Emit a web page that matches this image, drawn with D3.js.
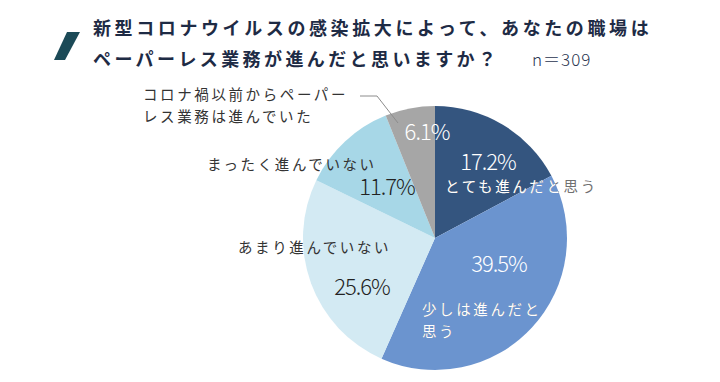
<!DOCTYPE html>
<html><head><meta charset="utf-8">
<script src="https://cdn.jsdelivr.net/npm/d3@7"></script>
<style>
html,body{margin:0;padding:0;background:#fff;}
svg{display:block;}
text{font-family:"Noto Sans CJK JP","Noto Sans",sans-serif;}
</style></head>
<body>
<svg id="chart" width="720" height="382"></svg>
<script>
// ---- data ----
const categories = ["とても進んだと思う", "少しは進んだと思う", "あまり進んでいない", "まったく進んでいない", "コロナ禍以前からペーパーレス業務は進んでいた"];
const values = [17.2, 39.5, 25.6, 11.7, 6.1];
const percentLabels = ["17.2%", "39.5%", "25.6%", "11.7%", "6.1%"];
const labelLines = [["とても進んだと思う"], ["少しは進んだと", "思う"], ["あまり進んでいない"], ["まったく進んでいない"], ["コロナ禍以前からペーパー", "レス業務は進んでいた"]];
const titleLines = ["新型コロナウイルスの感染拡大によって、あなたの職場は", "ペーパーレス業務が進んだと思いますか？"];
const sampleNote = "n＝309";

// ---- styles / layout ----
const colors = ["#34557F", "#6B94CF", "#D3EAF3", "#A7D7E7", "#A6A6A6"];
const pctColors = ["#ffffff", "#ffffff", "#222222", "#222222", "#ffffff"];
const lblColors = ["#ffffff", "#ffffff", "#333333", "#333333", "#333333"];
const cx = 435, cy = 238, R = 132;
// offsets relative to pie center
const pctPos = [[53, -68], [64, 34], [-73, 57], [-48, -43], [-8, -98]];
const lblPos = [[10, -46], [-13, 77], [-197, 15], [-228, -68], [-292, -138]];

const svg = d3.select("#chart");
const defs = svg.append("defs");
defs.append("clipPath").attr("id", "pieClip")
  .append("circle").attr("cx", 0).attr("cy", 0).attr("r", R);

// title marker
svg.append("path").attr("d", "M67,32 L80,32 L65,60 L54,60 Z").attr("fill", "#1B4A57");
svg.append("text").attr("x", 93).attr("y", 35).attr("font-size", 18).attr("font-weight", 700)
  .attr("letter-spacing", 3.6).attr("fill", "#1E2B45").text(titleLines[0]);
svg.append("text").attr("x", 93).attr("y", 66).attr("font-size", 18).attr("font-weight", 700)
  .attr("letter-spacing", 3.4).attr("fill", "#1E2B45").text(titleLines[1]);
svg.append("text").attr("x", 532).attr("y", 66).attr("font-size", 17).attr("font-weight", 300)
  .attr("letter-spacing", 1).attr("fill", "#2A3550").text(sampleNote);

const pie = d3.pie().value(d => d).sort(null);
const arc = d3.arc().innerRadius(0).outerRadius(R);
const arcs = pie(values);

const g = svg.append("g").attr("transform", `translate(${cx},${cy})`);
g.selectAll("path.slice").data(arcs).enter().append("path")
  .attr("class", "slice").attr("d", arc).attr("fill", (d, i) => colors[i]);

// percent labels
g.selectAll("text.pct").data(arcs).enter().append("text")
  .attr("class", "pct")
  .attr("x", (d, i) => pctPos[i][0]).attr("y", (d, i) => pctPos[i][1])
  .attr("text-anchor", "middle").attr("font-size", 22).attr("font-weight", 300)
  .attr("letter-spacing", -1)
  .attr("fill", (d, i) => pctColors[i]).text((d, i) => percentLabels[i]);

// category labels
function addLabel(i, fill, clip) {
  const t = g.append("text").attr("font-size", 14.5).attr("letter-spacing", 2.6)
    .attr("fill", fill);
  if (clip) t.attr("clip-path", "url(#pieClip)");
  labelLines[i].forEach((line, j) => {
    t.append("tspan").attr("x", lblPos[i][0]).attr("y", lblPos[i][1] + j * 22).text(line);
  });
}
arcs.forEach((d, i) => {
  if (lblColors[i] === "#ffffff") {
    addLabel(i, "#707070", false);   // part outside the pie shows as grey
    addLabel(i, "#ffffff", true);    // white inside the pie
  } else {
    addLabel(i, lblColors[i], false);
  }
});

// leader line for small slice
g.append("polyline")
  .attr("points", [[-75, -142], [-58, -142], [-37, -115]].map(p => p.join(",")).join(" "))
  .attr("fill", "none").attr("stroke", "#8C8C8C").attr("stroke-width", 1);
</script>
</body></html>
